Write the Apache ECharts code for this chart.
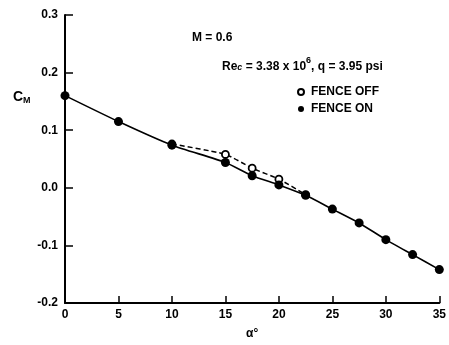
<!DOCTYPE html>
<html>
<head>
<meta charset="utf-8">
<script src="https://cdn.jsdelivr.net/npm/echarts@6/dist/echarts.min.js"></script>
<style>
  html, body { margin: 0; padding: 0; background: #fff; }
  #chart { width: 449px; height: 345px; }
</style>
</head>
<body>
<div id="chart"></div>
<script>
// Angle of attack (deg) and pitching-moment coefficient
const alphaOn = [0, 5, 10, 15, 17.5, 20, 22.5, 25, 27.5, 30, 32.5, 35];
const cmOn = [0.160, 0.115, 0.074, 0.044, 0.021, 0.005, -0.013, -0.037, -0.061, -0.090, -0.116, -0.142];
const alphaOff = [10, 15, 17.5, 20, 22.5];
const cmOff = [0.076, 0.058, 0.034, 0.015, -0.012];

const xTicks = [0, 5, 10, 15, 20, 25, 30, 35];
const yTicks = ['-0.2', '-0.1', '0.0', '0.1', '0.2', '0.3'];

const FONT = '"Liberation Sans", Arial, sans-serif';
const chart = echarts.init(document.getElementById('chart'), null, { renderer: 'canvas' });

const pairs = (xs, ys) => xs.map((x, i) => [x, ys[i]]);

chart.setOption({
  animation: false,
  backgroundColor: '#fff',
  grid: { left: 65, right: 7, top: 15, bottom: 37.5, containLabel: false },
  xAxis: {
    type: 'value',
    min: xTicks[0], max: xTicks[xTicks.length - 1], interval: 5,
    axisLine: { show: true, onZero: false, lineStyle: { color: '#000', width: 2 } },
    axisTick: { show: true, inside: true, length: 7, lineStyle: { color: '#000', width: 1.5 } },
    axisLabel: {
      color: '#000', fontFamily: FONT, fontWeight: 'bold', fontSize: 12, margin: 6,
      formatter: v => xTicks.includes(v) ? String(v) : ''
    },
    splitLine: { show: false },
    name: 'α°', nameLocation: 'middle', nameGap: 25,
    nameTextStyle: { color: '#000', fontFamily: FONT, fontWeight: 'bold', fontSize: 12 }
  },
  yAxis: {
    type: 'value',
    min: -0.2, max: 0.3, interval: 0.1,
    axisLine: { show: true, onZero: false, lineStyle: { color: '#000', width: 2 } },
    axisTick: { show: true, inside: true, length: 8, lineStyle: { color: '#000', width: 1.5 } },
    axisLabel: {
      color: '#000', fontFamily: FONT, fontWeight: 'bold', fontSize: 12, margin: 7,
      formatter: v => yTicks[Math.round((v + 0.2) * 10)]
    },
    splitLine: { show: false }
  },
  legend: {
    orient: 'vertical', left: 292, top: 81, itemGap: 5,
    icon: 'circle', itemWidth: 6, itemHeight: 6,
    textStyle: { color: '#000', fontFamily: FONT, fontWeight: 'bold', fontSize: 12, padding: [0, 0, 0, 2] },
    data: ['FENCE OFF', 'FENCE ON']
  },
  graphic: [
    { type: 'text', left: 13, top: 90,
      style: { text: '{m|C}{s|M}', fill: '#000',
        rich: { m: { fontFamily: FONT, fontWeight: 'bold', fontSize: 14 },
                s: { fontFamily: FONT, fontWeight: 'bold', fontSize: 9, padding: [7, 0, 0, 0] } } } },
    { type: 'text', left: 192, top: 32,
      style: { text: 'M = 0.6', fill: '#000', font: 'bold 12px ' + FONT } },
    { type: 'text', left: 222, top: 56,
      style: { text: '{a|Re}{b|c}{a| = 3.38 x 10}{c|6}{a|, q = 3.95 psi}', fill: '#000',
        rich: { a: { fontFamily: FONT, fontWeight: 'bold', fontSize: 12, verticalAlign: 'bottom' },
                b: { fontFamily: FONT, fontWeight: 'bold', fontStyle: 'italic', fontSize: 9, padding: [6, 0, 0, 0] },
                c: { fontFamily: FONT, fontWeight: 'bold', fontSize: 9, padding: [0, 0, 8, 0] } } } }
  ],
  series: [
    {
      name: 'FENCE OFF', type: 'line', z: 2,
      data: pairs(alphaOff, cmOff),
      smooth: 0.2,
      symbol: 'circle', symbolSize: 7,
      lineStyle: { color: '#000', width: 1.5, type: [5, 3] },
      itemStyle: { color: '#fff', borderColor: '#000', borderWidth: 1.8 }
    },
    {
      name: 'FENCE ON', type: 'line', z: 3,
      data: pairs(alphaOn, cmOn),
      smooth: 0.2,
      symbol: 'circle', symbolSize: 9,
      lineStyle: { color: '#000', width: 1.6 },
      itemStyle: { color: '#000', borderColor: '#000', borderWidth: 0 }
    }
  ]
});
</script>
</body>
</html>
